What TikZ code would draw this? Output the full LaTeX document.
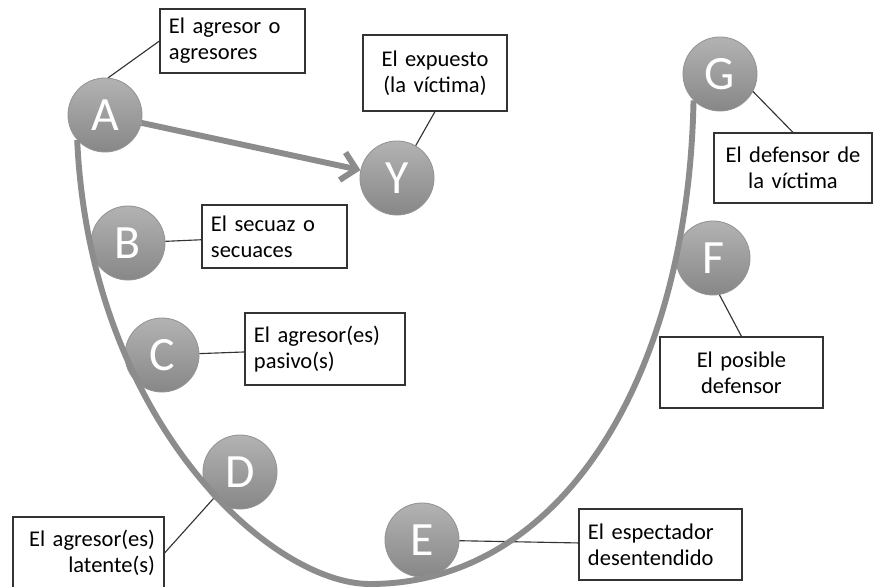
\documentclass[tikz,border=0pt]{standalone}
\usepackage{fontspec}
\setmainfont{Carlito}
\usetikzlibrary{arrows.meta}
\newcommand\labelfnt{\fontsize{16}{18.5}\selectfont}
\newcommand\ballfnt{\fontsize{34}{34}\selectfont}
\tikzset{
  ball/.style={circle, minimum size=1.85cm, inner sep=0pt, draw=black!42, line width=0.6pt,
    top color=black!30, bottom color=black!47, text=white, font=\ballfnt},
  role/.style={draw=black!80, line width=0.8pt, fill=white, inner xsep=0.225cm, inner ysep=0pt,
    font=\labelfnt, text=black},
  leader/.style={black!80, line width=0.8pt},
  track/.style={black!45, line width=4.2pt},
  pointer/.style={track, -{Straight Barb[length=10pt,width=20pt]}}
}

\begin{document}
\begin{tikzpicture}[x=0.025cm, y=-0.025cm]
    \fill[white] (0,0) rectangle (882,586);
    \useasboundingbox (0,0) rectangle (882,586);
    %% the roles
    \node[role, text width=3.175cm, minimum height=1.6cm, align=left] (tA) at (232.5,41) {El agresor o\\agresores};
    \node[role, text width=3.15cm, minimum height=1.9cm, align=center] (tY) at (435,73) {El expuesto\\(la víctima)};
    \node[role, text width=3.5cm, minimum height=1.75cm, align=center] (tG) at (793,168) {El defensor de\\la víctima};
    \node[role, text width=3.175cm, minimum height=1.575cm, align=left] (tB) at (274.5,236.5) {El secuaz o\\secuaces};
    \node[role, text width=3.55cm, minimum height=1.8cm, align=left] (tC) at (325,349) {El agresor(es)\\pasivo(s)};
    \node[role, text width=3.625cm, minimum height=1.775cm, align=center] (tF) at (741.5,372.5) {El posible\\defensor};
    \node[role, text width=3.325cm, minimum height=1.8cm, align=right] (tD) at (88.5,553) {El agresor(es)\\latente(s)};
    \node[role, text width=3.625cm, minimum height=1.775cm, align=left] (tE) at (660.5,544.5) {El espectador\\desentendido};
    %% the circles
    \node[ball] (A) at (105,115) {A};
    \node[ball] (Y) at (397,178) {Y};
    \node[ball] (G) at (720,74) {G};
    \node[ball] (B) at (128,243) {B};
    \node[ball] (C) at (162,355) {C};
    \node[ball] (D) at (240,472) {D};
    \node[ball] (E) at (422,540) {E};
    \node[ball] (F) at (713,258) {F};
    %% leaders
    \draw[leader] (A.85) -- (tA.west);
    \draw[leader] (Y.60) -- (tY.south);
    \draw[leader] (G.-28) -- (tG.north);
    \draw[leader] (B) -- (tB);
    \draw[leader] (C) -- (tC);
    \draw[leader] (D.225) -- (tD.east);
    \draw[leader] (E) -- (tE);
    \draw[leader] (F.-80) -- (tF.north);
    %% the U and the arrow
    \draw[track] (A.222) .. controls (90,420) and (270,584) .. (370,584) coordinate (low)
        .. controls (560,584) and (688,380) .. (G.225);
    \draw[pointer] (A) -- (Y);
\end{tikzpicture}
\end{document}
